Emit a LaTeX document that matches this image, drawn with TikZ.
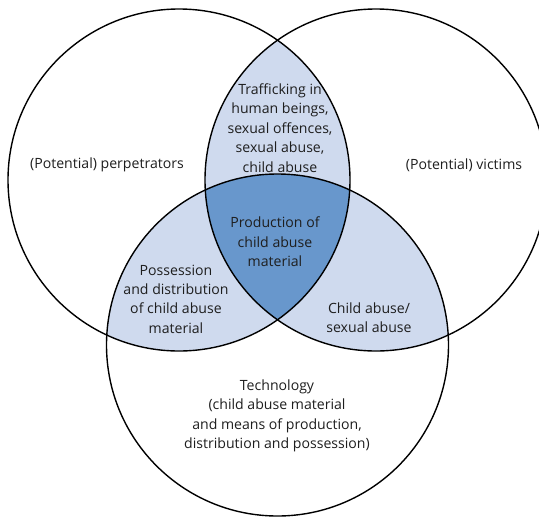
\documentclass[tikz,border=0pt]{standalone}
\usepackage{fontspec}
\setmainfont{Open Sans}
\definecolor{lightblue}{RGB}{207,218,238}
\definecolor{darkblue}{RGB}{104,151,204}
\definecolor{txt}{RGB}{30,30,30}
\begin{document}
\begin{tikzpicture}[x=1pt,y=-1pt,
  lbl/.style={align=center,font=\fontsize{14.1}{19.4}\selectfont,text=txt,inner sep=0pt},
  ring/.style={draw=black,line width=1.4pt}]
\useasboundingbox (0,0) rectangle (539,517);
\def\rr{171}
\coordinate (L) at (179,180);
\coordinate (R) at (376,180);
\coordinate (B) at (277.5,345);
% pairwise intersections
\begin{scope}
  \clip (L) circle (\rr);
  \fill[lightblue] (R) circle (\rr);
  \fill[lightblue] (B) circle (\rr);
\end{scope}
\begin{scope}
  \clip (R) circle (\rr);
  \fill[lightblue] (B) circle (\rr);
\end{scope}
\begin{scope}
  \clip (L) circle (\rr);
  \clip (R) circle (\rr);
  \fill[darkblue] (B) circle (\rr);
\end{scope}
\draw[ring] (L) circle (\rr);
\draw[ring] (R) circle (\rr);
\draw[ring] (B) circle (\rr);
\node[lbl] (perp) at (107,165) {(Potential) perpetrators};
\node[lbl] (vict) at (464,165) {(Potential) victims};
\node[lbl] (traf) at (280,128) {Trafficking in\\human beings,\\sexual offences,\\sexual abuse,\\child abuse};
\node[lbl] (prod) at (275,242) {Production of\\child abuse\\material};
\node[lbl] (poss) at (176,299) {Possession\\and distribution\\of child abuse\\material};
\node[lbl] (chab) at (369,318) {Child abuse/\\sexual abuse};
\node[lbl] (tech) at (277,416) {Technology\\(child abuse material\\and means of production,\\distribution and possession)};
\end{tikzpicture}
\end{document}
